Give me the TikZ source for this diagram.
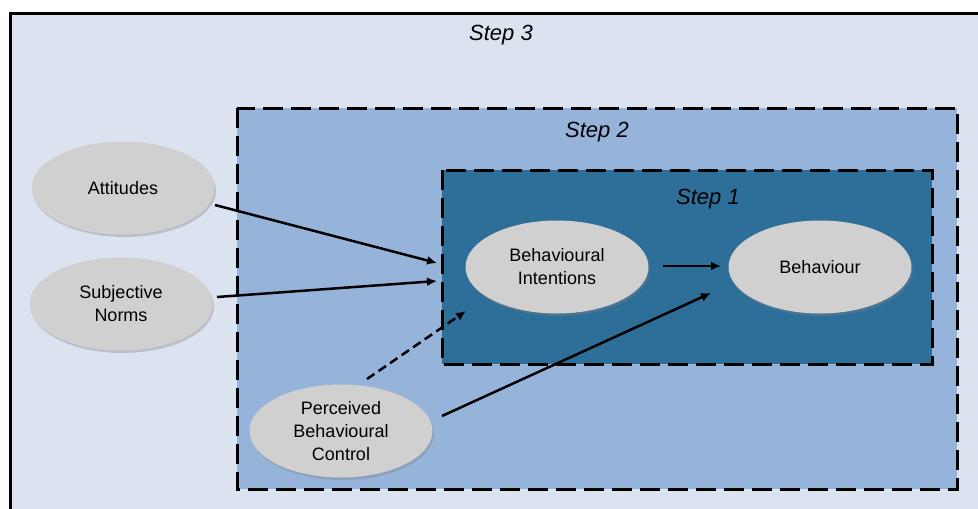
\documentclass[tikz,border=0pt]{standalone}
\usepackage{fontspec}
\setmainfont{Liberation Sans}
\usetikzlibrary{shapes.geometric,arrows.meta,shadows}
\definecolor{bgthree}{HTML}{DCE3F0}
\definecolor{bgtwo}{HTML}{96B3DA}
\definecolor{bgone}{HTML}{2E6F9A}
\definecolor{ellgrey}{HTML}{D1D0D1}
\tikzset{
  ell/.style={ellipse, fill=ellgrey, draw=none, inner sep=0pt, minimum width=183pt, minimum height=93pt, align=center, font=\fontsize{18}{23}\selectfont, drop shadow={opacity=0.35, shadow xshift=1.5pt, shadow yshift=-2.5pt}},
  steplabel/.style={font=\fontsize{22}{26}\selectfont\itshape},
  dashbox/.style={draw=black, line width=3pt, dash pattern=on 20pt off 8pt},
  arr/.style={draw=black, line width=2.5pt, -{Latex[length=10pt,width=9pt]}},
  darr/.style={arr, dash pattern=on 9pt off 5pt}
}
\begin{document}
\begin{tikzpicture}[x=1pt,y=-1pt]
\useasboundingbox (0,0) rectangle (978,509);
\clip (0,0) rectangle (978,509);
\fill[white] (0,0) rectangle (978,509);
\draw[fill=bgthree, line width=3pt] (10,13) rectangle (995,525);
\draw[dashbox, fill=bgtwo] (237,108) rectangle (957,489);
\draw[dashbox, fill=bgone] (442,170) rectangle (932,364);
\node[steplabel] (s3) at (501,35) {Step 3};
\node[steplabel] (s2) at (597,132) {Step 2};
\node[steplabel] (s1) at (708,199) {Step 1};
\node[ell] (att) at (123,188) {Attitudes};
\node[ell] (sn) at (121,304) {Subjective\\Norms};
\node[ell] (pbc) at (341,431) {Perceived\\Behavioural\\Control};
\node[ell] (bi) at (557,267) {Behavioural\\Intentions};
\node[ell] (beh) at (820,267) {Behaviour};
\coordinate (a1) at (215,205);
\coordinate (a2) at (437,263);
\coordinate (b1) at (217,297);
\coordinate (b2) at (437,281);
\coordinate (c1) at (367,379);
\coordinate (c2) at (466,311);
\coordinate (d1) at (442,416);
\coordinate (d2) at (711,293);
\coordinate (e1) at (663,266);
\coordinate (e2) at (721,266);
\draw[arr] (a1) -- (a2);
\draw[arr] (b1) -- (b2);
\draw[darr] (c1) -- (c2);
\draw[arr] (d1) -- (d2);
\draw[arr] (e1) -- (e2);
\end{tikzpicture}
\end{document}
